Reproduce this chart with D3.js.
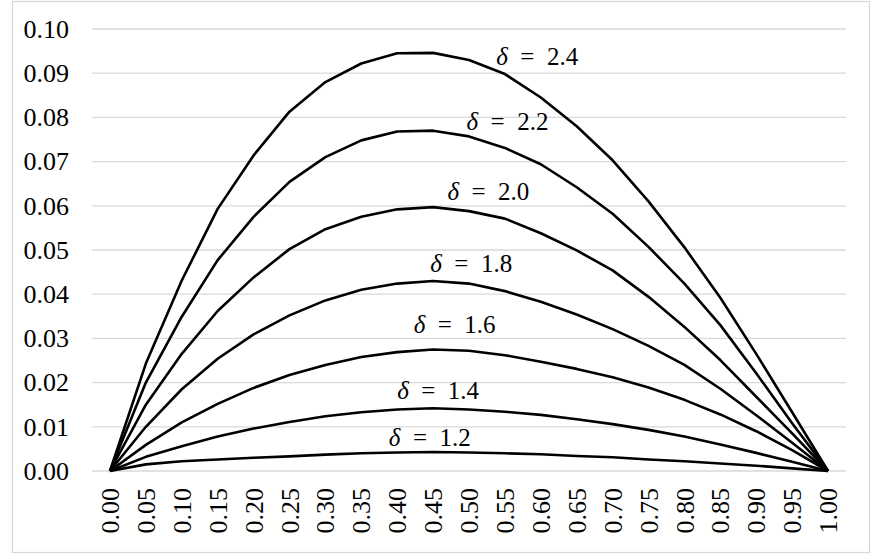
<!DOCTYPE html>
<html>
<head>
<meta charset="utf-8">
<script src="https://cdn.jsdelivr.net/npm/d3@7"></script>
<style>
  html, body { margin: 0; padding: 0; background: #fff; }
  svg { display: block; }
</style>
</head>
<body>
<svg id="chart" width="871" height="554"></svg>
<script>
// ---- Data ----
const categories = ["0.00","0.05","0.10","0.15","0.20","0.25","0.30","0.35","0.40","0.45","0.50",
                    "0.55","0.60","0.65","0.70","0.75","0.80","0.85","0.90","0.95","1.00"];
const yTicks = [0.00,0.01,0.02,0.03,0.04,0.05,0.06,0.07,0.08,0.09,0.10];
const deltas = ["1.2","1.4","1.6","1.8","2.0","2.2","2.4"];

const d12 = [0,0.0015,0.0022,0.0026,0.0030,0.0033,0.0037,0.0040,0.0042,0.0043,0.0042,0.0040,0.0038,0.0034,0.0031,0.0026,0.0022,0.0017,0.0012,0.0006,0];
const d14 = [0,0.0032,0.0056,0.0078,0.0096,0.0111,0.0124,0.0133,0.0139,0.0142,0.0139,0.0134,0.0127,0.0117,0.0106,0.0093,0.0078,0.0060,0.0041,0.0021,0];
const d16 = [0,0.0059,0.0110,0.0152,0.0188,0.0217,0.0240,0.0258,0.0269,0.0275,0.0272,0.0262,0.0247,0.0231,0.0212,0.0189,0.0161,0.0128,0.0090,0.0047,0];
const d18 = [0,0.0100,0.0185,0.0254,0.0309,0.0352,0.0386,0.0410,0.0424,0.0430,0.0424,0.0407,0.0383,0.0354,0.0321,0.0283,0.0240,0.0186,0.0126,0.0064,0];
const d20 = [0,0.0150,0.0265,0.0362,0.0438,0.0502,0.0547,0.0575,0.0592,0.0597,0.0588,0.0571,0.0538,0.0499,0.0454,0.0394,0.0326,0.0251,0.0168,0.0085,0];
const d22 = [0,0.0200,0.0349,0.0477,0.0575,0.0654,0.0710,0.0748,0.0768,0.0770,0.0757,0.0731,0.0694,0.0642,0.0582,0.0507,0.0424,0.0330,0.0221,0.0108,0];
const d24 = [0,0.0243,0.0431,0.0593,0.0714,0.0813,0.0880,0.0922,0.0945,0.0946,0.0930,0.0898,0.0845,0.0780,0.0703,0.0610,0.0506,0.0392,0.0265,0.0133,0];
const seriesValues = [d12, d14, d16, d18, d20, d22, d24];

// label anchors (category index position, value) for annotations
const labelIdx = [8.91, 9.14, 9.60, 10.06, 10.54, 11.07, 11.90];
const labelVal = [0.0057, 0.0163, 0.0312, 0.0450, 0.0613, 0.0771, 0.0919];

const FONT = "Liberation Serif";

// ---- Layout ----
const svg = d3.select("#chart");
const W = 871, H = 554;
const plot = { left: 92, right: 846, top: 29, bottom: 471 };

svg.append("rect")
  .attr("x", 12.5).attr("y", 1.5)
  .attr("width", W - 14).attr("height", H - 3)
  .attr("fill", "#fff").attr("stroke", "#d9d9d9").attr("stroke-width", 1.3);

const x = d3.scaleBand().domain(categories).range([plot.left, plot.right]);
const xc = c => x(c) + x.bandwidth() / 2;
const xi = i => plot.left + x.bandwidth() * (i + 0.5);
const y = d3.scaleLinear().domain([0, 0.10]).range([plot.bottom, plot.top]);

// gridlines
svg.append("g").selectAll("line").data(yTicks).join("line")
  .attr("x1", plot.left).attr("x2", plot.right)
  .attr("y1", d => y(d)).attr("y2", d => y(d))
  .attr("stroke", "#d9d9d9").attr("stroke-width", 1.3);

// y axis
const yAxis = svg.append("g")
  .attr("transform", `translate(${plot.left},0)`)
  .call(d3.axisLeft(y).tickValues(yTicks).tickFormat(d3.format(".2f")).tickSize(0).tickPadding(23));
yAxis.select(".domain").remove();
yAxis.selectAll("text")
  .style("font-family", FONT).style("font-size", "26px").attr("fill", "#000");

// x axis
const xAxis = svg.append("g")
  .attr("transform", `translate(0,${plot.bottom})`)
  .call(d3.axisBottom(x).tickSize(0));
xAxis.select(".domain").remove();
xAxis.selectAll("text")
  .style("font-family", FONT).style("font-size", "26px").attr("fill", "#000")
  .attr("text-anchor", "end")
  .attr("transform", "rotate(-90)")
  .attr("x", -17).attr("y", 0).attr("dy", "0.35em");

// lines
const line = d3.line().x((d, i) => xc(categories[i])).y(d => y(d));
svg.append("g").selectAll("path").data(seriesValues).join("path")
  .attr("d", d => line(d))
  .attr("fill", "none").attr("stroke", "#000").attr("stroke-width", 2.6)
  .attr("stroke-linejoin", "round");

// labels
const lab = svg.append("g")
  .selectAll("text").data(deltas).join("text")
  .attr("x", (d, i) => xi(labelIdx[i]))
  .attr("y", (d, i) => y(labelVal[i]))
  .attr("text-anchor", "middle")
  .style("font-family", FONT).style("font-size", "25px")
  .attr("fill", "#000");
lab.append("tspan").style("font-style", "italic").text("δ");
lab.append("tspan").text(d => "\u2002=\u2002" + d);
</script>
</body>
</html>
